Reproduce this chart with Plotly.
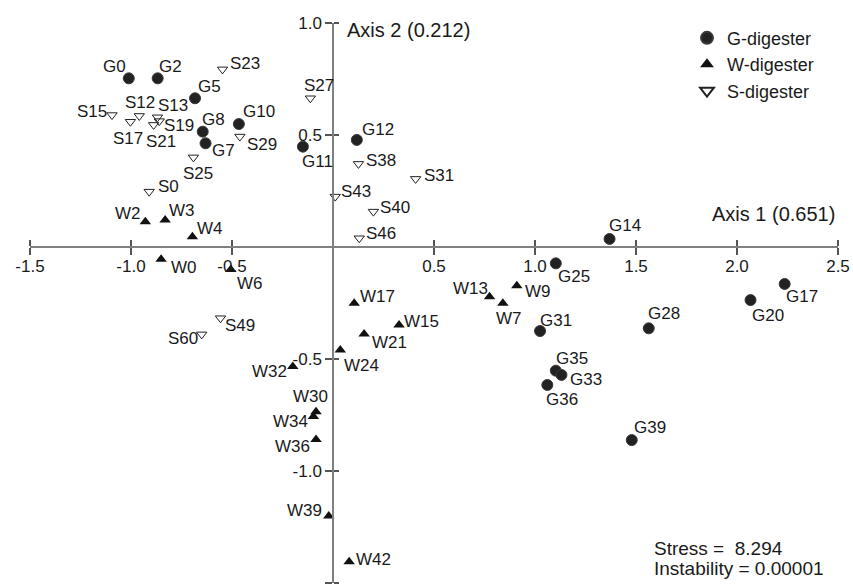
import plotly.graph_objects as go

# G-digester samples
g_names = ["G0", "G2", "G5", "G8", "G7", "G10", "G11", "G12", "G14", "G25", "G17", "G20",
           "G28", "G31", "G35", "G33", "G36", "G39"]
g_x = [-1.011, -0.868, -0.683, -0.645, -0.631, -0.466, -0.149, 0.118, 1.369, 1.103, 2.236, 2.067,
       1.563, 1.025, 1.103, 1.131, 1.061, 1.479]
g_y = [0.753, 0.753, 0.664, 0.515, 0.463, 0.549, 0.448, 0.478, 0.036, -0.073, -0.165, -0.237,
       -0.363, -0.375, -0.552, -0.571, -0.616, -0.862]

# W-digester samples
w_names = ["W2", "W3", "W4", "W0", "W6", "W17", "W15", "W21", "W24", "W32", "W30", "W34",
           "W36", "W39", "W42", "W13", "W7", "W9"]
w_x = [-0.929, -0.831, -0.696, -0.851, -0.506, 0.105, 0.327, 0.154, 0.036, -0.199, -0.084, -0.097,
       -0.084, -0.021, 0.080, 0.775, 0.841, 0.910]
w_y = [0.113, 0.121, 0.046, -0.055, -0.100, -0.251, -0.348, -0.388, -0.460, -0.534, -0.735, -0.757,
       -0.859, -1.201, -1.405, -0.222, -0.251, -0.173]

# S-digester samples
s_names = ["S23", "S27", "S15", "S12", "S13", "S17", "S21", "S19", "S29", "S25", "S0", "S38",
           "S31", "S43", "S40", "S46", "S49", "S60"]
s_x = [-0.547, -0.112, -1.094, -0.959, -0.869, -1.003, -0.888, -0.860, -0.461, -0.691, -0.910, 0.126,
       0.409, 0.011, 0.200, 0.130, -0.557, -0.650]
s_y = [0.793, 0.664, 0.589, 0.585, 0.579, 0.559, 0.545, 0.562, 0.493, 0.400, 0.247, 0.371,
       0.304, 0.225, 0.158, 0.039, -0.318, -0.390]

x_ticks = [-1.5, -1.0, -0.5, 0.5, 1.0, 1.5, 2.0, 2.5]
y_ticks = [-1.5, -1.0, -0.5, 0.5, 1.0]

# label offsets in screen pixels (dx right, dy down) -- styling only
g_off = [(-14, -12), (13, -12), (14, -12), (11, -12), (18, 7), (20, -13), (15, 15), (21, -10),
         (15, -13), (18, 13), (17, 13), (17, 15), (15, -15), (16, -11), (16, -12), (25, 5),
         (15, 15), (18, -13)]
w_off = [(-17, -8), (17, -9), (18, -8), (23, 8), (19, 14), (23, -7), (22, -3), (25, 9), (21, 15),
         (-23, 5), (-6, -15), (-23, 5), (-24, 7), (-24, -6), (24, -2), (-19, -8), (6, 15), (21, 6)]
s_off = [(22, -6), (9, -13), (-20, -4), (1, -13), (16, -12), (-2, 17), (7, 17), (20, 4), (22, 8),
         (5, 16), (19, -5), (23, -3), (23, -3), (21, -5), (22, -4), (22, -5), (20, 7), (-19, 4)]

FONT = "Liberation Sans, Arial, sans-serif"
INK = "#1a1a1a"
LBL = dict(family=FONT, size=17, color=INK)

fig = go.Figure()
fig.add_trace(go.Scatter(x=g_x, y=g_y, mode="markers", name="G-digester", cliponaxis=False,
                         marker=dict(symbol="circle", size=11, color="#222222",
                                     line=dict(width=1, color="#3a3a3a"))))
fig.add_trace(go.Scatter(x=w_x, y=w_y, mode="markers", name="W-digester", cliponaxis=False,
                         marker=dict(symbol="triangle-up", size=10, color="#111111")))
fig.add_trace(go.Scatter(x=s_x, y=s_y, mode="markers", name="S-digester", cliponaxis=False,
                         marker=dict(symbol="triangle-down-open", size=9, color="#222222",
                                     line=dict(width=1))))

annotations = []
for names, xs, ys, offs in [(g_names, g_x, g_y, g_off), (w_names, w_x, w_y, w_off),
                            (s_names, s_x, s_y, s_off)]:
    for n, xv, yv, (dx, dy) in zip(names, xs, ys, offs):
        annotations.append(dict(x=xv, y=yv, xref="x", yref="y", text=n, showarrow=False,
                                xanchor="center", yanchor="middle", xshift=dx, yshift=-dy,
                                font=LBL))

BIG = dict(family=FONT, size=20, color=INK)
annotations += [
    dict(x=0.06, y=0.97, xref="x", yref="y", text="Axis 2 (0.212)", showarrow=False,
         xanchor="left", yanchor="middle", font=BIG),
    dict(x=1.865, y=0.147, xref="x", yref="y", text="Axis 1 (0.651)", showarrow=False,
         xanchor="left", yanchor="middle", font=BIG),
    dict(x=(652 - 30) / 808, y=1 - (548 - 23) / 560, xref="paper", yref="paper",
         text="Stress =  8.294", showarrow=False, xanchor="left", yanchor="middle",
         font=dict(family=FONT, size=19, color=INK)),
    dict(x=(652 - 30) / 808, y=1 - (568 - 23) / 560, xref="paper", yref="paper",
         text="Instability = 0.00001", showarrow=False, xanchor="left", yanchor="middle",
         font=dict(family=FONT, size=19, color=INK)),
]

TICKF = dict(family=FONT, size=17, color=INK)
axis_common = dict(showgrid=False, zeroline=False, showline=True, linecolor="#808080",
                   linewidth=1.5, ticks="outside", ticklen=7, tickwidth=1.5, tickcolor="#555555",
                   tickfont=TICKF, anchor="free")

fig.update_layout(
    width=853, height=586,
    margin=dict(l=30, r=15, t=23, b=3),
    plot_bgcolor="white", paper_bgcolor="white",
    xaxis=dict(range=[-1.5, 2.5], tickvals=x_ticks, ticktext=["%.1f" % v for v in x_ticks],
               position=0.6, ticklabelstandoff=-3,
               minor=dict(tickmode="array", tickvals=[v + 1e-6 for v in x_ticks], ticks="inside",
                          ticklen=6, tickwidth=1.5, tickcolor="#555555", showgrid=False),
               **axis_common),
    yaxis=dict(range=[-1.5, 1.0], tickvals=y_ticks, ticktext=["%.1f" % v for v in y_ticks],
               position=0.375,
               minor=dict(tickmode="array", tickvals=[v + 1e-6 for v in y_ticks], ticks="inside",
                          ticklen=5, tickwidth=1.5, tickcolor="#555555", showgrid=False),
               **axis_common),
    legend=dict(x=(687 - 30) / 808, y=1.006, xanchor="left", yanchor="top",
                font=dict(family=FONT, size=18, color=INK),
                bgcolor="rgba(0,0,0,0)", tracegroupgap=0, itemsizing="constant"),
    showlegend=True,
    annotations=annotations,
)

fig.write_html("out.html")
